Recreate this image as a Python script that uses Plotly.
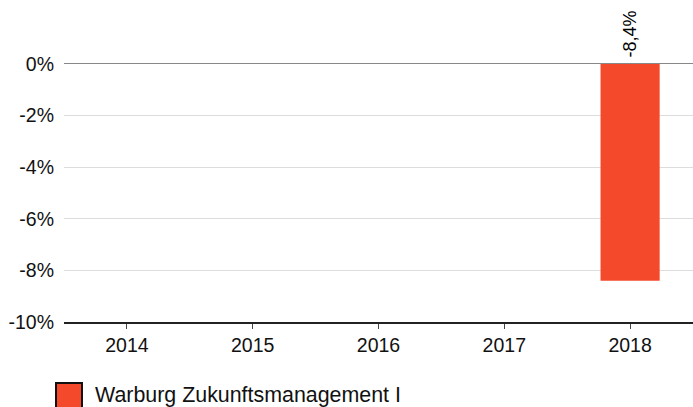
import plotly.graph_objects as go

categories = ["2014", "2015", "2016", "2017", "2018"]
values = [None, None, None, None, -8.4]
labels = ["", "", "", "", "-8,4%"]
series_name = "Warburg Zukunftsmanagement I"
ytick_vals = [0, -2, -4, -6, -8, -10]
ytick_text = ["0%", "-2%", "-4%", "-6%", "-8%", "-10%"]

BAR = "#f4492a"
FONT = "Liberation Sans, Arial, sans-serif"

PL, PT, PB = 64, 0, 322  # plot area pixels
PW, PH = 693 - PL, PB - PT

def px_x(x):
    return (x - PL) / PW

def px_y(y):
    return (PB - y) / PH

fig = go.Figure()
fig.add_trace(go.Bar(
    x=categories, y=values, marker=dict(color=BAR, line=dict(width=0)),
    width=0.47, showlegend=False, hoverinfo="skip",
))

for i, (v, t) in enumerate(zip(values, labels)):
    if v is not None and t:
        fig.add_annotation(x=i, y=0, text=t, textangle=-90, showarrow=False,
                           xanchor="center", yanchor="bottom", yshift=4,
                           font=dict(family=FONT, size=18, color="#000"))

# legend (custom, larger swatch)
fig.add_annotation(xref="paper", yref="paper", x=px_x(93), y=px_y(395),
                   text=series_name, showarrow=False, xanchor="left", yanchor="middle",
                   font=dict(family=FONT, size=21.4, color="#111"))
fig.add_shape(type="rect", xref="paper", yref="paper",
              x0=px_x(56), x1=px_x(82), y0=px_y(409), y1=px_y(383),
              fillcolor=BAR, line=dict(color="#111", width=2))

fig.update_layout(
    width=693, height=407,
    margin=dict(l=PL, r=0, t=PT, b=407 - PB, autoexpand=False),
    paper_bgcolor="white", plot_bgcolor="white",
    font=dict(family=FONT, size=19.5, color="#111"),
    showlegend=False,
)
fig.update_xaxes(
    type="category", categoryorder="array", categoryarray=categories,
    range=[-0.5, 4.5], automargin=False,
    showgrid=False, showline=True, linecolor="#222", linewidth=2,
    ticks="outside", ticklen=5, tickcolor="#444", tickwidth=1,
    tickfont=dict(family=FONT, size=19.5, color="#111"), fixedrange=True,
)
fig.update_yaxes(
    range=[-10, 2.48], tickvals=ytick_vals, ticktext=ytick_text, automargin=False,
    showgrid=True, gridcolor="#dddddd", gridwidth=1,
    zeroline=True, zerolinecolor="#888888", zerolinewidth=1,
    showline=False, ticks="", ticklabelstandoff=9,
    tickfont=dict(family=FONT, size=19.5, color="#111"), fixedrange=True,
)

fig.write_html("out.html", config={"displayModeBar": False},
               post_script="document.body.style.margin='0';document.body.style.overflow='hidden';")
